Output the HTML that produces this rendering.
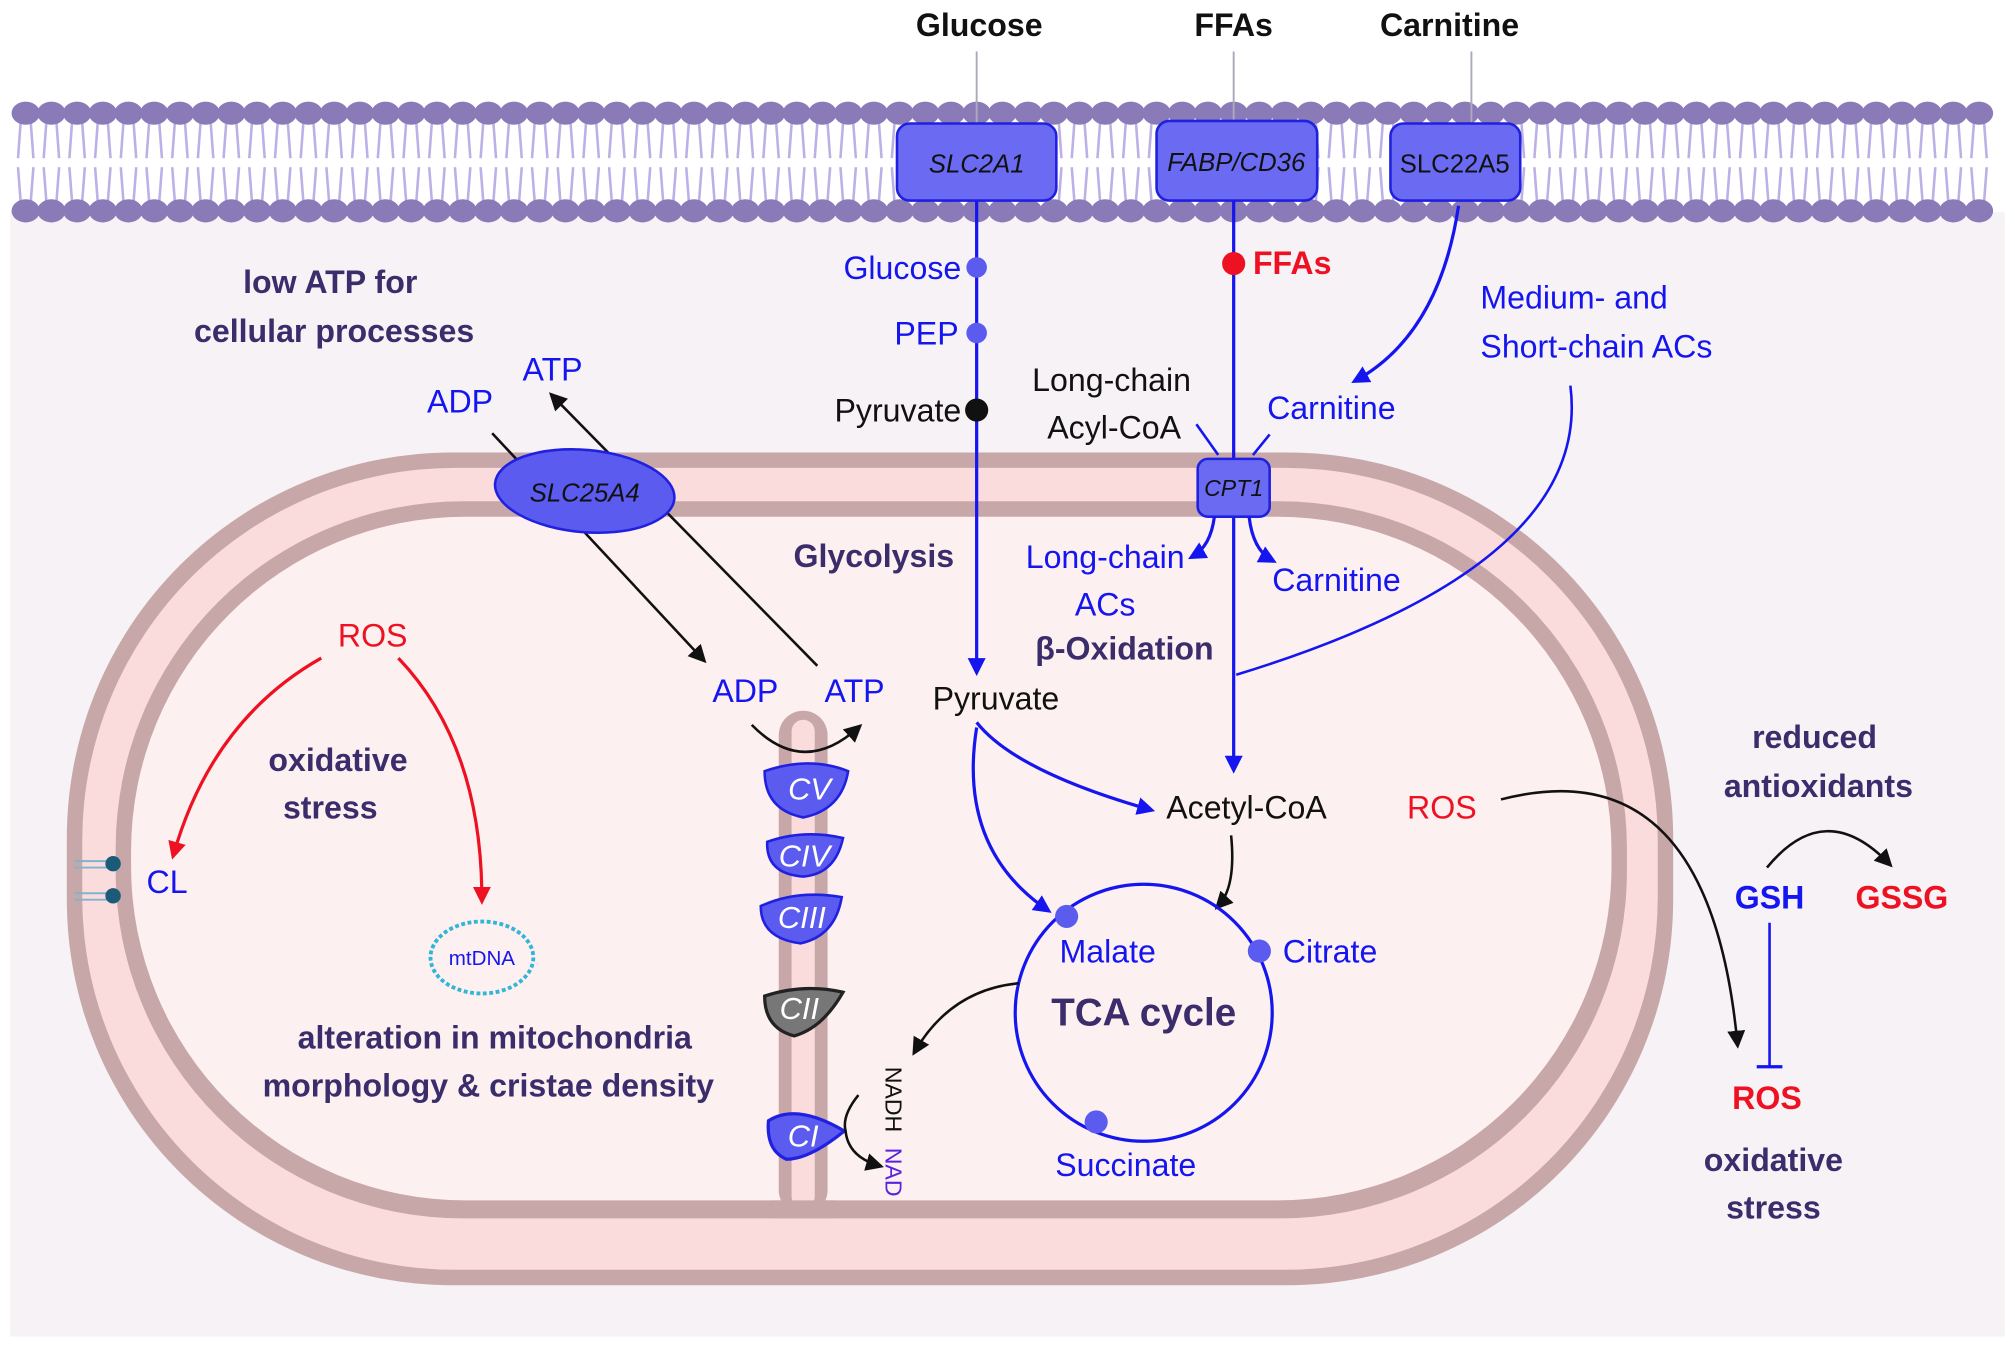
<!DOCTYPE html>
<html><head><meta charset="utf-8"><style>
html,body{margin:0;padding:0;background:#fff}
svg{display:block}
text{font-family:"Liberation Sans",sans-serif}
.b{fill:#1515f0}.k{fill:#111}.p{fill:#3b2d6b;font-weight:bold}.r{fill:#ee1122}
</style></head><body>
<svg id="s" width="2015" height="1347" viewBox="0 0 1568 1048" xmlns="http://www.w3.org/2000/svg">
<defs>
<marker id="ak" markerWidth="14" markerHeight="14" refX="10" refY="7" orient="auto" markerUnits="userSpaceOnUse"><path d="M0,0L14,7L0,14z" fill="#111"/></marker>
<marker id="abl" markerWidth="14" markerHeight="14" refX="10" refY="7" orient="auto" markerUnits="userSpaceOnUse"><path d="M0,0L14,7L0,14z" fill="#1515f0"/></marker>
<marker id="ar" markerWidth="14" markerHeight="14" refX="10" refY="7" orient="auto" markerUnits="userSpaceOnUse"><path d="M0,0L14,7L0,14z" fill="#ee1122"/></marker>
</defs>
<rect x="8" y="165" width="1552" height="875" fill="#f6f2f6"/>
<g id="mem"></g>
<g>
<rect x="52" y="352" width="1250" height="648" rx="300" ry="300" fill="#c8a7a8"/>
<rect x="64" y="364" width="1226" height="624" rx="290" ry="290" fill="#fbdcdc"/>
<rect x="90" y="390" width="1176" height="558" rx="270" ry="270" fill="#c8a7a8"/>
<rect x="102" y="402" width="1152" height="532" rx="260" ry="260" fill="#fdf0f0"/>
<rect x="606" y="553" width="38" height="392" rx="19" fill="#c8a7a8"/>
<rect x="616" y="560" width="18" height="380" rx="9" fill="#fbdcdc"/>
<rect x="600" y="934" width="50" height="14" fill="#c8a7a8"/>
</g>
<g font-size="25" fill="#111" font-weight="bold">
<line x1="760" y1="40" x2="760" y2="96" stroke="#aab" stroke-width="1.5"/>
<line x1="960" y1="40" x2="960" y2="96" stroke="#aab" stroke-width="1.5"/>
<line x1="1145" y1="40" x2="1145" y2="96" stroke="#aab" stroke-width="1.5"/>
<text x="762" y="28" text-anchor="middle">Glucose</text>
<text x="960" y="28" text-anchor="middle">FFAs</text>
<text x="1128" y="28" text-anchor="middle">Carnitine</text>
</g>
<g font-size="20" font-style="italic" fill="#111" text-anchor="middle">
<rect x="698" y="96" width="124" height="60" rx="10" fill="#6a6af2" stroke="#2020e0" stroke-width="2"/>
<text x="760" y="134">SLC2A1</text>
<rect x="900" y="94" width="125" height="62" rx="10" fill="#6a6af2" stroke="#2020e0" stroke-width="2"/>
<text x="962" y="133">FABP/CD36</text>
<rect x="1082" y="96" width="101" height="60" rx="10" fill="#6a6af2" stroke="#2020e0" stroke-width="2"/>
<text x="1132" y="134" font-style="normal">SLC22A5</text>
</g>
<line x1="760" y1="156" x2="760" y2="522" stroke="#1515f0" stroke-width="2.5" marker-end="url(#abl)"/>
<circle cx="760" cy="208" r="8" fill="#5b5bf0"/><circle cx="760" cy="259" r="8" fill="#5b5bf0"/><circle cx="760" cy="319" r="9" fill="#111"/>
<g font-size="25" text-anchor="end">
<text x="748" y="217" class="b">Glucose</text>
<text x="746" y="268" class="b">PEP</text>
<text x="748" y="328" class="k">Pyruvate</text>
</g>
<line x1="960" y1="156" x2="960" y2="598" stroke="#1515f0" stroke-width="2.5" marker-end="url(#abl)"/>
<circle cx="960" cy="205" r="9" fill="#ee1122"/>
<text x="975" y="213" font-size="25" class="r" font-weight="bold">FFAs</text>
<path d="M1135,160 Q1120,260 1055,296" fill="none" stroke="#1515f0" stroke-width="2.5" marker-end="url(#abl)"/>
<text x="986" y="326" font-size="25" class="b">Carnitine</text>
<text x="865" y="304" font-size="25" class="k" text-anchor="middle">Long-chain</text>
<text x="867" y="341" font-size="25" class="k" text-anchor="middle">Acyl-CoA</text>
<line x1="931" y1="330" x2="948" y2="354" stroke="#1515f0" stroke-width="2"/>
<line x1="988" y1="338" x2="975" y2="354" stroke="#1515f0" stroke-width="2"/>
<text x="1152" y="240" font-size="25" class="b">Medium- and</text>
<text x="1152" y="278" font-size="25" class="b">Short-chain ACs</text>
<path d="M1222,300 Q1240,440 962,525" fill="none" stroke="#1515f0" stroke-width="2"/>
<rect x="932" y="357" width="56" height="45" rx="8" fill="#6a6af2" stroke="#2020e0" stroke-width="2"/>
<text x="960" y="386" font-size="18" font-style="italic" fill="#111" text-anchor="middle">CPT1</text>
<path d="M945,402 Q942,425 928,433" fill="none" stroke="#1515f0" stroke-width="2.5" marker-end="url(#abl)"/>
<path d="M972,402 Q975,428 990,436" fill="none" stroke="#1515f0" stroke-width="2.5" marker-end="url(#abl)"/>
<g font-size="25">
<text x="860" y="442" class="b" text-anchor="middle">Long-chain</text>
<text x="860" y="479" class="b" text-anchor="middle">ACs</text>
<text x="990" y="460" class="b">Carnitine</text>
<text x="875" y="513" class="p" text-anchor="middle">β-Oxidation</text>
<text x="680" y="441" class="p" text-anchor="middle">Glycolysis</text>
<text x="775" y="552" class="k" text-anchor="middle">Pyruvate</text>
<text x="970" y="637" class="k" text-anchor="middle">Acetyl-CoA</text>
</g>
<path d="M760,562 Q790,600 895,630" fill="none" stroke="#1515f0" stroke-width="2.5" marker-end="url(#abl)"/>
<path d="M760,566 Q745,660 815,708" fill="none" stroke="#1515f0" stroke-width="2.5" marker-end="url(#abl)"/>
<path d="M958,650 Q962,690 948,705" fill="none" stroke="#111" stroke-width="2" marker-end="url(#ak)"/>
<circle cx="890" cy="788" r="100" fill="none" stroke="#1515f0" stroke-width="2.5"/>
<circle cx="830" cy="713" r="9" fill="#5b5bf0"/><circle cx="980" cy="740" r="9" fill="#5b5bf0"/><circle cx="853" cy="873" r="9" fill="#5b5bf0"/>
<g font-size="25">
<text x="862" y="749" class="b" text-anchor="middle">Malate</text>
<text x="1035" y="749" class="b" text-anchor="middle">Citrate</text>
<text x="876" y="915" class="b" text-anchor="middle">Succinate</text>
<text x="890" y="798" class="p" font-size="30" text-anchor="middle">TCA cycle</text>
</g>
<g font-size="25">
<text x="257" y="228" class="p" text-anchor="middle">low ATP for</text>
<text x="260" y="266" class="p" text-anchor="middle">cellular processes</text>
<text x="358" y="321" class="b" text-anchor="middle">ADP</text>
<text x="430" y="296" class="b" text-anchor="middle">ATP</text>
<text x="580" y="546" class="b" text-anchor="middle">ADP</text>
<text x="665" y="546" class="b" text-anchor="middle">ATP</text>
</g>
<line x1="383" y1="337" x2="547" y2="513" stroke="#111" stroke-width="2" marker-end="url(#ak)"/>
<line x1="636" y1="518" x2="430" y2="308" stroke="#111" stroke-width="2" marker-end="url(#ak)"/>
<ellipse cx="455" cy="382" rx="70" ry="32" transform="rotate(5 455 382)" fill="#5b5bf0" stroke="#2020e0" stroke-width="2"/>
<text x="455" y="390" font-size="20" font-style="italic" fill="#111" text-anchor="middle">SLC25A4</text>
<path d="M585,564 Q625,605 668,566" fill="none" stroke="#111" stroke-width="2" marker-end="url(#ak)"/>
<g font-size="24" font-style="italic" fill="#fff" text-anchor="middle">
<path d="M595,600 Q630,588 660,600 Q655,630 625,636 Q595,630 595,600z" fill="#5b5bf0" stroke="#2020e0" stroke-width="2"/>
<text x="630" y="622">CV</text>
<path d="M597,655 Q625,645 656,652 Q650,680 625,682 Q596,680 597,655z" fill="#5b5bf0" stroke="#2020e0" stroke-width="2"/>
<text x="626" y="674">CIV</text>
<path d="M592,705 Q620,692 655,698 Q650,728 623,734 Q592,730 592,705z" fill="#5b5bf0" stroke="#2020e0" stroke-width="2"/>
<text x="624" y="722">CIII</text>
<path d="M595,775 Q625,765 656,772 Q640,800 618,806 Q595,800 595,775z" fill="#777" stroke="#222" stroke-width="2.5"/>
<text x="622" y="793">CII</text>
<path d="M598,872 Q620,858 657,880 Q630,902 612,902 Q596,895 598,872z" fill="#5b5bf0" stroke="#2020e0" stroke-width="2.5"/>
<text x="625" y="892">CI</text>
</g>
<path d="M793,765 Q740,770 712,818" fill="none" stroke="#111" stroke-width="2" marker-end="url(#ak)"/>
<path d="M668,852 Q655,868 658,880 Q660,900 684,907" fill="none" stroke="#111" stroke-width="2" marker-end="url(#ak)"/>
<text x="0" y="0" font-size="18" class="k" transform="translate(689,830) rotate(90)">NADH</text>
<text x="0" y="0" font-size="18" style="fill:#5a22e0" transform="translate(689,893) rotate(90)">NAD</text>
<text x="290" y="503" font-size="25" class="r" text-anchor="middle">ROS</text>
<path d="M250,512 Q165,560 135,665" fill="none" stroke="#ee1122" stroke-width="2.5" marker-end="url(#ar)"/>
<path d="M310,512 Q375,580 375,700" fill="none" stroke="#ee1122" stroke-width="2.5" marker-end="url(#ar)"/>
<text x="263" y="600" font-size="25" class="p" text-anchor="middle">oxidative</text>
<text x="257" y="637" font-size="25" class="p" text-anchor="middle">stress</text>
<text x="130" y="695" font-size="25" class="b" text-anchor="middle">CL</text>
<g stroke="#7fb3cf" stroke-width="1.5">
<line x1="58" y1="670" x2="84" y2="670"/><line x1="58" y1="675" x2="84" y2="675"/>
<line x1="58" y1="695" x2="84" y2="695"/><line x1="58" y1="700" x2="84" y2="700"/>
<circle cx="88" cy="672" r="6" fill="#1c5a7a" stroke="none"/><circle cx="88" cy="697" r="6" fill="#1c5a7a" stroke="none"/>
</g>
<ellipse cx="375" cy="745" rx="40" ry="28" fill="none" stroke="#33b5d8" stroke-width="3" stroke-dasharray="3 2"/>
<text x="375" y="751" font-size="16" class="b" text-anchor="middle">mtDNA</text>
<text x="385" y="816" font-size="25" class="p" text-anchor="middle">alteration in mitochondria</text>
<text x="380" y="853" font-size="25" class="p" text-anchor="middle">morphology &amp; cristae density</text>
<text x="1122" y="637" font-size="25" class="r" text-anchor="middle">ROS</text>
<path d="M1168,622 Q1330,580 1352,812" fill="none" stroke="#111" stroke-width="2" marker-end="url(#ak)"/>
<text x="1412" y="582" font-size="25" class="p" text-anchor="middle">reduced</text>
<text x="1415" y="620" font-size="25" class="p" text-anchor="middle">antioxidants</text>
<text x="1377" y="707" font-size="25" class="b" font-weight="bold" text-anchor="middle">GSH</text>
<text x="1480" y="707" font-size="25" class="r" font-weight="bold" text-anchor="middle">GSSG</text>
<path d="M1375,675 Q1420,620 1470,672" fill="none" stroke="#111" stroke-width="2" marker-end="url(#ak)"/>
<line x1="1377" y1="718" x2="1377" y2="830" stroke="#1515f0" stroke-width="2"/>
<line x1="1367" y1="830" x2="1387" y2="830" stroke="#1515f0" stroke-width="2.5"/>
<text x="1375" y="863" font-size="25" class="r" font-weight="bold" text-anchor="middle">ROS</text>
<text x="1380" y="911" font-size="25" class="p" text-anchor="middle">oxidative</text>
<text x="1380" y="948" font-size="25" class="p" text-anchor="middle">stress</text>
</svg>
<script>
var ns="http://www.w3.org/2000/svg";
var g=document.getElementById('mem');
var headY=[88,164];
for(var x=20;x<1560;x+=20){
  var t=document.createElementNS(ns,'path');
  t.setAttribute('d','M'+(x-4)+',96 L'+(x-6)+',123 M'+(x+4)+',96 L'+(x+6)+',123 M'+(x-6)+',130 L'+(x-4)+',156 M'+(x+6)+',130 L'+(x+4)+',156');
  t.setAttribute('stroke','#bcb0e6');t.setAttribute('stroke-width','2');t.setAttribute('fill','none');
  g.appendChild(t);
  for(var i=0;i<2;i++){
    var e=document.createElementNS(ns,'ellipse');
    
    
    e.setAttribute('cx',x);e.setAttribute('cy',headY[i]);e.setAttribute('rx',11);e.setAttribute('ry',9);
    e.setAttribute('fill','#8a7bb8');
    g.appendChild(e);
  }
}
</script>
</body></html>
